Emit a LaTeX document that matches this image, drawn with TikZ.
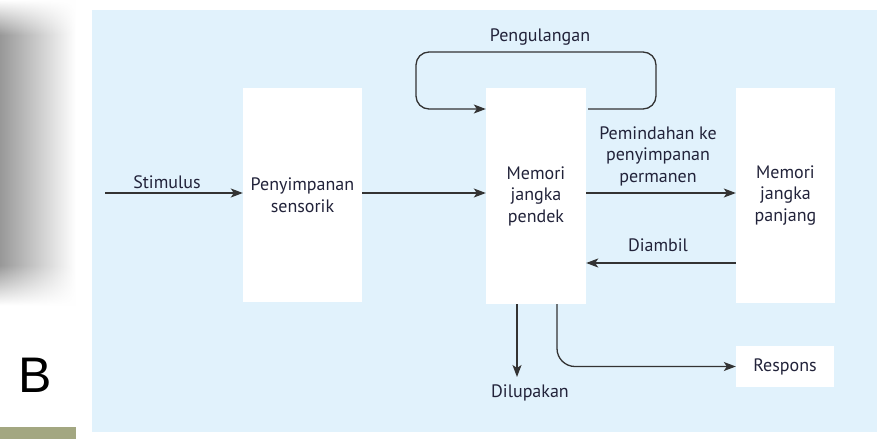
\documentclass[tikz,border=0pt]{standalone}
\usepackage{fontspec}
\setmainfont{PT Sans}
\usetikzlibrary{arrows.meta,fadings}
\definecolor{panel}{HTML}{E1F2FC}
\definecolor{ink}{HTML}{22233A}
\definecolor{linec}{HTML}{333333}
\definecolor{olive}{HTML}{A3A781}
\definecolor{shadeg}{HTML}{989898}
\begin{document}
\begin{tikzpicture}[x=1pt,y=-1pt,
  box/.style={fill=white, draw=none, inner sep=0pt, align=center, text=ink,
    font=\fontsize{18}{21.5}\selectfont},
  lbl/.style={text=ink, align=center, inner sep=1pt, font=\fontsize{18}{21.5}\selectfont},
  arrow/.style={draw=linec, line width=1.3pt, -{Stealth[length=12pt,width=9pt,inset=3pt]}},
  plain/.style={draw=linec, line width=1.3pt}]
\useasboundingbox (0,0) rectangle (877,439);
% background
\fill[white] (0,0) rectangle (877,439);
\shade[left color=shadeg, right color=white] (0,35) rectangle (76,265);
\shade[left color=shadeg, right color=white, path fading=north] (0,0) rectangle (76,35);
\shade[left color=shadeg, right color=white, path fading=south] (0,265) rectangle (76,305);
\fill[olive] (0,427) rectangle (76,439);
\node[font=\fontsize{50}{50}\selectfont\fontspec{Liberation Sans}, inner sep=0pt] (B) at (35,375) {B};
\fill[panel] (92,10) rectangle (877,432);
% boxes
\node[box, minimum width=119pt, minimum height=214pt] (sens) at (302.5,195) {Penyimpanan\\sensorik};
\node[box, minimum width=100pt, minimum height=216pt] (pend) at (536,196) {Memori\\jangka\\pendek};
\node[box, minimum width=99pt, minimum height=215pt] (pan) at (785.5,195.5) {Memori\\jangka\\panjang};
\node[box, minimum width=98pt, minimum height=41pt] (resp) at (785,366.5) {Respons};
% labels
\node[lbl] (stiml) at (167,182) {Stimulus};
\node[lbl] (peml) at (658,156) {Pemindahan ke\\penyimpanan\\permanen};
\node[lbl] (diam) at (658,245) {Diambil};
\node[lbl] (peng) at (540,37) {Pengulangan};
\node[lbl] (dil) at (530,393) {Dilupakan};
% connectors
\coordinate (stim) at (105,193);
\draw[arrow] (stim) -- (sens.west |- stim);
\draw[arrow] (sens.east |- stim) -- (pend.west |- stim);
\draw[arrow] (pend.east |- stim) -- (pan.west |- stim);
\draw[arrow] (pan.west |- 0,263) -- (pend.east |- 0,263);
\draw[arrow, rounded corners=13pt] ([xshift=2pt]pend.east |- 0,109) -- (656,109) -- (656,52) -- (416,52) -- (416,109) -- (pend.west |- 0,109);
\draw[arrow] (pend.south -| 517,0) -- (517,377);
\draw[arrow, rounded corners=18pt] (pend.south -| 557,0) |- (resp.west);
\end{tikzpicture}
\end{document}
